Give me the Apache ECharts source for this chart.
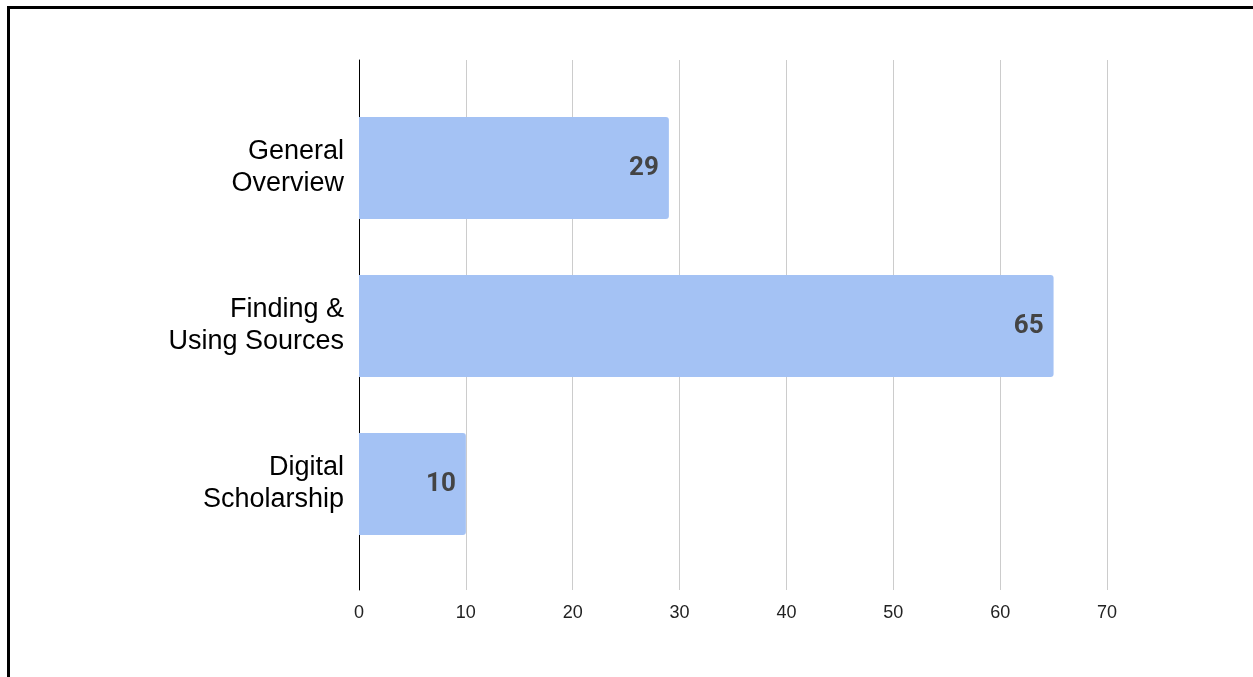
<!DOCTYPE html>
<html>
<head>
<meta charset="utf-8">
<script src="https://cdn.jsdelivr.net/npm/echarts@6/dist/echarts.min.js"></script>
<style>
  html, body { margin: 0; padding: 0; background: #fff; overflow: hidden; }
  #frame { position: absolute; left: 7px; top: 6px; width: 1400px; height: 800px; border: 3px solid #000; box-sizing: border-box; }
  #chart { position: absolute; left: 0; top: 0; width: 1253px; height: 677px; }
</style>
</head>
<body>
<div id="frame"></div>
<div id="chart"></div>
<script>
const categories = ["General\nOverview", "Finding &\nUsing Sources", "Digital\nScholarship"];
const values = [29, 65, 10];
const xTicks = [0, 10, 20, 30, 40, 50, 60, 70];

const chart = echarts.init(document.getElementById("chart"));
chart.setOption({
  backgroundColor: "transparent",
  animation: false,
  // grid 0: frame with gridlines and axis line; grid 1: bars (inset vertically)
  grid: [
    { left: 359, right: 146, top: 60, bottom: 87 },
    { left: 359, right: 146, top: 89, bottom: 114 },
  ],
  xAxis: [
    {
      gridIndex: 0,
      type: "value",
      min: xTicks[0],
      max: xTicks[xTicks.length - 1],
      interval: 10,
      axisLine: { show: false },
      axisTick: { show: false },
      axisLabel: { color: "#222", fontSize: 18, fontFamily: "Liberation Sans", margin: 14 },
      splitLine: { lineStyle: { color: "#cccccc", width: 1 } },
    },
    {
      gridIndex: 1,
      type: "value",
      min: xTicks[0],
      max: xTicks[xTicks.length - 1],
      interval: 10,
      show: false,
    },
  ],
  yAxis: [
    {
      gridIndex: 0,
      type: "value",
      min: 0,
      max: 1,
      axisLine: { show: true, lineStyle: { color: "#000", width: 1 } },
      axisTick: { show: false },
      axisLabel: { show: false },
      splitLine: { show: false },
    },
    {
      gridIndex: 1,
      type: "category",
      inverse: true,
      data: categories,
      axisLine: { show: false },
      axisTick: { show: false },
      axisLabel: { color: "#000", fontSize: 27, fontFamily: "Liberation Sans", lineHeight: 32, align: "right", margin: 15 },
      splitLine: { show: false },
    },
  ],
  series: [
    {
      type: "bar",
      xAxisIndex: 1,
      yAxisIndex: 1,
      data: values,
      barWidth: 102,
      itemStyle: { color: "#a4c2f4", borderRadius: [0, 3, 3, 0] },
      label: {
        show: true,
        position: "insideRight",
        distance: 10,
        color: "#444",
        fontSize: 26,
        fontWeight: "bold",
        fontFamily: "Roboto",
      },
    },
  ],
});
</script>
</body>
</html>
